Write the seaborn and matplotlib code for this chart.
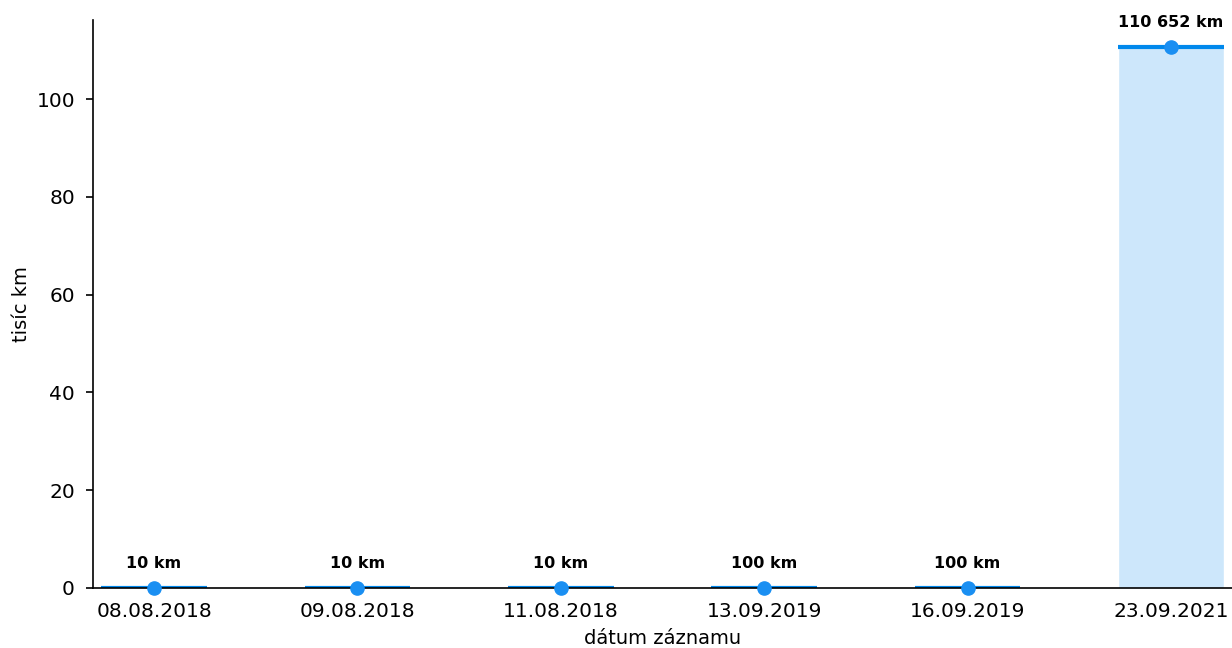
import matplotlib
matplotlib.use("Agg")
import matplotlib.pyplot as plt
import seaborn as sns
import pandas as pd

# Odometer readings per record date
dates = ["08.08.2018", "09.08.2018", "11.08.2018", "13.09.2019", "16.09.2019", "23.09.2021"]
km = [10, 10, 10, 100, 100, 110652]

df = pd.DataFrame({"datum": dates, "tis_km": [v / 1000 for v in km]})

sns.set_style("ticks", {"axes.edgecolor": "black", "text.color": "black",
                        "xtick.color": "black", "ytick.color": "black",
                        "axes.labelcolor": "black"})
plt.rcParams["font.family"] = ["DejaVu Sans"]

LINE = "#0088ec"
FILL = "#cde7fb"
BAR_W = 0.52

fig = plt.figure(figsize=(12.32, 6.48), dpi=100)
ax = fig.add_axes([0.0755, 0.0926, 0.9245, 0.8765])

sns.barplot(data=df, x="datum", y="tis_km", color=FILL, width=BAR_W,
            saturation=1, ax=ax, zorder=1)

xs = list(range(len(df)))
ax.hlines(df["tis_km"], [x - BAR_W / 2 for x in xs], [x + BAR_W / 2 for x in xs],
          color=LINE, linewidth=3, zorder=2)
ax.plot(xs, df["tis_km"], linestyle="none", marker="o", markersize=9.5,
        color="#1a8ff2", zorder=3, clip_on=False)

for x, v, t in zip(xs, df["tis_km"], km):
    label = f"{t:,}".replace(",", " ") + " km"
    ax.annotate(label, (x, v), xytext=(0, 12), textcoords="offset points",
                ha="center", va="bottom", fontsize=11.5, fontweight="bold",
                color="black")

ax.set_xlim(-0.3, 5.3)
ax.set_ylim(0, 116.2)
ax.set_yticks([0, 20, 40, 60, 80, 100])
ax.tick_params(axis="x", length=0, labelsize=14.5, pad=10)
ax.tick_params(axis="y", labelsize=14.5, width=1.2, length=5, pad=8)
ax.set_xlabel("dátum záznamu", fontsize=14, labelpad=6)
ax.set_ylabel("tisíc km", fontsize=14)
for s in ax.spines.values():
    s.set_linewidth(1.2)
sns.despine(ax=ax)

fig.savefig("out.png", dpi=100)
